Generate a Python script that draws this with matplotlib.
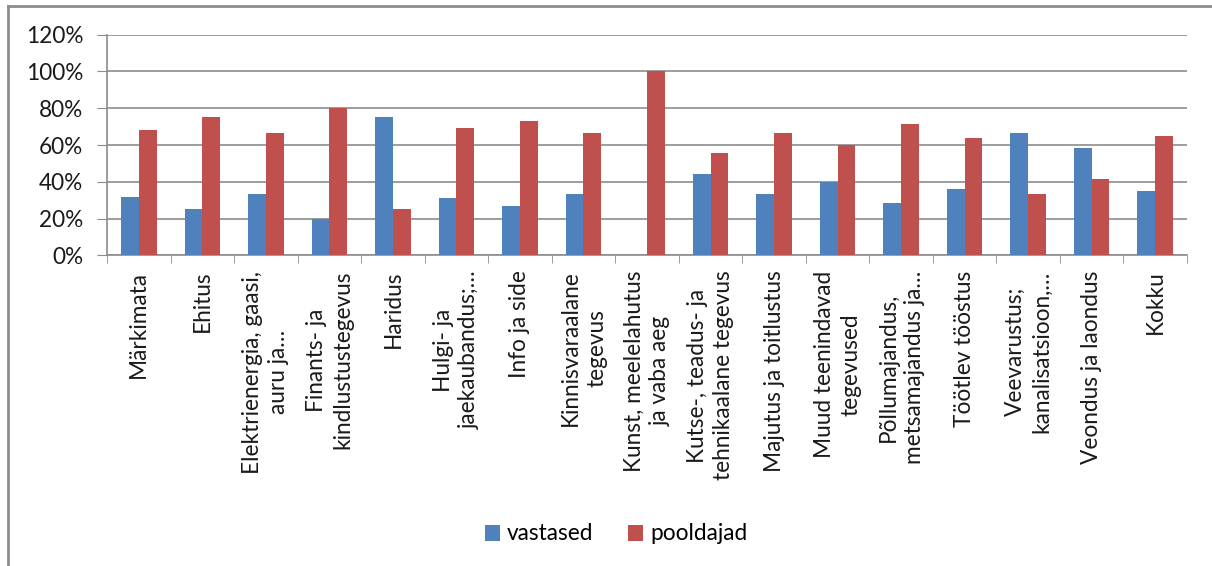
import numpy as np
import matplotlib.pyplot as plt
from matplotlib.lines import Line2D

# data (percent)
categories = [
    "Märkimata",
    "Ehitus",
    "Elektrienergia, gaasi,\nauru ja…",
    "Finants- ja\nkindlustustegevus",
    "Haridus",
    "Hulgi- ja\njaekaubandus;…",
    "Info ja side",
    "Kinnisvaraalane\ntegevus",
    "Kunst, meelelahutus\nja vaba aeg",
    "Kutse-, teadus- ja\ntehnikaalane tegevus",
    "Majutus ja toitlustus",
    "Muud teenindavad\ntegevused",
    "Põllumajandus,\nmetsamajandus ja…",
    "Töötlev tööstus",
    "Veevarustus;\nkanalisatsioon,…",
    "Veondus ja laondus",
    "Kokku",
]
vastased = [31.6, 25, 33.3, 20, 75, 31, 27, 33.3, 0, 44.4, 33.3, 40, 28.6, 36, 66.7, 58.3, 35]
pooldajad = [68.4, 75, 66.7, 80, 25, 69, 73, 66.7, 100, 55.6, 66.7, 60, 71.4, 64, 33.3, 41.7, 65]
yticks = [0, 20, 40, 60, 80, 100, 120]

plt.rcParams['font.family'] = ['Lato', 'DejaVu Sans']
fs = 16.3
W, H = 1212, 566

fig = plt.figure(figsize=(W / 100, H / 100), dpi=100)
ax = fig.add_axes([107 / W, 1 - 255.3 / H, 1080 / W, (255.3 - 34.7) / H])

x = np.arange(len(categories))
w = 0.28
ax.bar(x - w / 2, vastased, w, color='#4F81BD', label='vastased', zorder=3)
ax.bar(x + w / 2, pooldajad, w, color='#C0504D', label='pooldajad', zorder=3)

ax.set_xlim(-0.5, len(categories) - 0.5)
ax.set_ylim(0, 120)
ax.set_yticks(yticks)
ax.set_yticklabels([f'{v}%' for v in yticks], fontsize=fs, color='#1a1a1a')
ax.yaxis.grid(True, color='#8c8c8c', lw=1.2)
ax.set_axisbelow(True)
ax.tick_params(axis='y', length=7, color='#8c8c8c', pad=10)

ax.set_xticks(x)
ax.set_xticklabels(categories, rotation=90, ha='center', va='top',
                   multialignment='center', fontsize=fs, color='#1a1a1a',
                   linespacing=1.3)
ax.tick_params(axis='x', which='major', length=0, pad=11)
ax.set_xticks(np.arange(-0.5, len(categories), 1), minor=True)
ax.tick_params(axis='x', which='minor', length=6, color='#8c8c8c')

for s in ['top', 'right']:
    ax.spines[s].set_visible(False)
for s in ['left', 'bottom']:
    ax.spines[s].set_color('#8c8c8c')
    ax.spines[s].set_linewidth(1.2)

fig.legend(loc='center', bbox_to_anchor=(616 / W, 1 - 534 / H), ncol=2,
           frameon=False, fontsize=fs, handlelength=0.7, handleheight=0.7,
           handletextpad=0.3, columnspacing=1.5)

# outer chart frame (only top and left visible in the reference)
fig.add_artist(Line2D([8 / W, 1], [1 - 6 / H, 1 - 6 / H], color='#8c8c8c', lw=2))
fig.add_artist(Line2D([8 / W, 8 / W], [0, 1 - 6 / H], color='#8c8c8c', lw=2))

fig.savefig('out.png', dpi=100)
